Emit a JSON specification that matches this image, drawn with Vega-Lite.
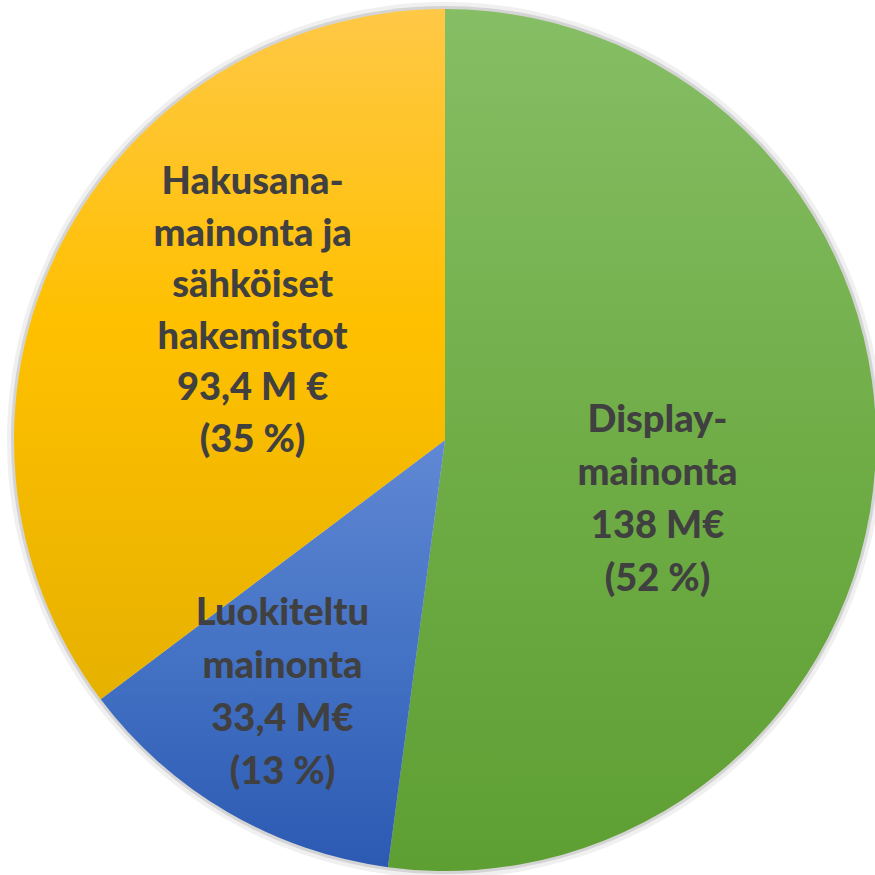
{
  "$schema": "https://vega.github.io/schema/vega-lite/v6.json",
  "width": 860,
  "height": 870,
  "autosize": "none",
  "padding": {"left": 15, "top": 5, "right": 0, "bottom": 0},
  "background": "white",
  "data": {
    "values": [
      {"name": "Display", "order": 1, "value": 138, "label": "Display-\nmainonta\n138 M€\n(52 %)"},
      {"name": "Luokiteltu", "order": 2, "value": 33.4, "label": "Luokiteltu\nmainonta\n33,4 M€\n(13 %)"},
      {"name": "Hakusana", "order": 3, "value": 93.4, "label": "Hakusana-\nmainonta ja\nsähköiset\nhakemistot\n93,4 M €\n(35 %)"}
    ]
  },
  "encoding": {
    "theta": {"field": "value", "type": "quantitative", "stack": true},
    "order": {"field": "order", "type": "quantitative"}
  },
  "layer": [
    {
      "mark": {"type": "arc", "outerRadius": 438, "fill": "#707070", "fillOpacity": 0.1}
    },
    {
      "mark": {"type": "arc", "outerRadius": 434, "fill": "#707070", "fillOpacity": 0.22}
    },
    {
      "mark": {
        "type": "arc",
        "outerRadius": 431,
        "fill": {
          "gradient": "linear", "x1": 0, "y1": 0, "x2": 0, "y2": 1,
          "stops": [
            {"offset": 0, "color": "#86BE65"},
            {"offset": 0.5, "color": "#70AD47"},
            {"offset": 1, "color": "#5E9F33"}
          ]
        }
      },
      "encoding": {
        "fillOpacity": {"condition": {"test": "datum.name === 'Display'", "value": 1}, "value": 0}
      }
    },
    {
      "mark": {
        "type": "arc",
        "outerRadius": 431,
        "fill": {
          "gradient": "linear", "x1": 0, "y1": 0, "x2": 0, "y2": 1,
          "stops": [
            {"offset": 0, "color": "#6088D4"},
            {"offset": 0.5, "color": "#4472C4"},
            {"offset": 1, "color": "#2C5AB3"}
          ]
        }
      },
      "encoding": {
        "fillOpacity": {"condition": {"test": "datum.name === 'Luokiteltu'", "value": 1}, "value": 0}
      }
    },
    {
      "mark": {
        "type": "arc",
        "outerRadius": 431,
        "fill": {
          "gradient": "linear", "x1": 0, "y1": 0, "x2": 0, "y2": 1,
          "stops": [
            {"offset": 0, "color": "#FFC846"},
            {"offset": 0.45, "color": "#FFC000"},
            {"offset": 1, "color": "#E6B100"}
          ]
        }
      },
      "encoding": {
        "fillOpacity": {"condition": {"test": "datum.name === 'Hakusana'", "value": 1}, "value": 0}
      }
    },
    {
      "mark": {"type": "text", "radius": 215, "dx": -2, "dy": -33, "font": "Lato", "fontWeight": 900, "fontSize": 38, "lineHeight": 53, "lineBreak": "\n", "fill": "#404040", "align": "center", "baseline": "middle"},
      "encoding": {
        "text": {"condition": {"test": "datum.name === 'Display'", "field": "label"}, "value": ""}
      }
    },
    {
      "mark": {"type": "text", "radius": 215, "dx": -54, "dy": -12, "font": "Lato", "fontWeight": 900, "fontSize": 38, "lineHeight": 53, "lineBreak": "\n", "fill": "#404040", "align": "center", "baseline": "middle"},
      "encoding": {
        "text": {"condition": {"test": "datum.name === 'Luokiteltu'", "field": "label"}, "value": ""}
      }
    },
    {
      "mark": {"type": "text", "radius": 215, "dx": 0, "dy": -161, "font": "Lato", "fontWeight": 900, "fontSize": 38, "lineHeight": 51.5, "lineBreak": "\n", "fill": "#404040", "align": "center", "baseline": "middle"},
      "encoding": {
        "text": {"condition": {"test": "datum.name === 'Hakusana'", "field": "label"}, "value": ""}
      }
    }
  ]
}
